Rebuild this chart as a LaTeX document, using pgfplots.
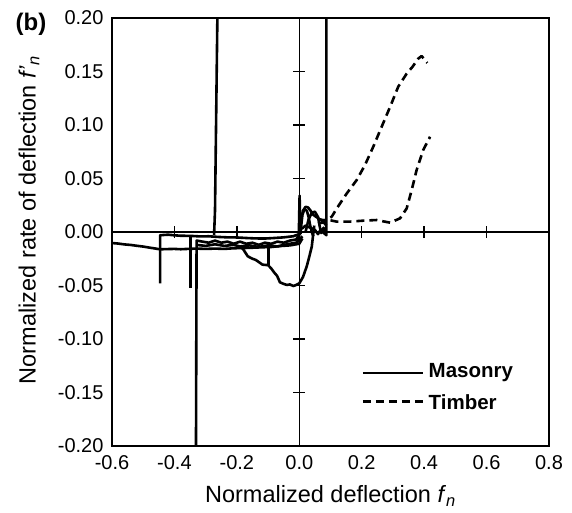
\documentclass[border=0pt]{standalone}
\usepackage{fontspec}
\setmainfont{Liberation Sans}
\usepackage{pgfplots}
\pgfplotsset{compat=1.18}

\begin{document}
\begin{tikzpicture}[
    masonry/.style={black, solid, line width=2.6pt, mark=none, line join=round},
    timber/.style={black, line width=2.6pt, mark=none, line join=round, dash pattern=on 8pt off 5pt},
]
% page = 572 x 512 (1pt per pixel of the reference)
\path[use as bounding box] (-112pt,-66pt) rectangle (460pt,446pt);

\begin{axis}[
    width=437pt, height=428pt, scale only axis,
    xmin=-0.6, xmax=0.8, ymin=-0.2, ymax=0.2,
    xtick={-0.6,-0.4,...,0.8},
    ytick={-0.2,-0.15,-0.1,-0.05,0,0.05,0.1,0.15,0.2},
    major tick length=0pt,
    tick style={draw=none},
    axis line style={line width=1.3pt},
    /pgf/number format/assume math mode=true,
    tick label style={font=\fontsize{20}{22}\selectfont},
    xticklabel style={/pgf/number format/fixed, /pgf/number format/fixed zerofill,
        /pgf/number format/precision=1, yshift=-6pt},
    yticklabel style={/pgf/number format/fixed, /pgf/number format/fixed zerofill,
        /pgf/number format/precision=2, xshift=-5pt},
    xlabel={Normalized deflection \textit{f}\textsubscript{\textit{n}}},
    ylabel={Normalized rate of deflection \textit{f'}\textsubscript{\textit{n}}},
    label style={font=\fontsize{23.5}{26}\selectfont},
    xlabel style={at={(axis description cs:0.5,-0.0845)}, anchor=north},
    ylabel style={at={(axis description cs:-0.19,0.528)}, anchor=center},
]
% ---- Masonry (solid)
\addplot[masonry] coordinates {(-0.600,-0.0103) (-0.58,-0.0108) (-0.56,-0.0116) (-0.54,-0.0121)
  (-0.52,-0.0129) (-0.50,-0.0136) (-0.48,-0.0146) (-0.46,-0.0155) (-0.446,-0.0162)
  (-0.43,-0.0160) (-0.40,-0.0158) (-0.38,-0.0161) (-0.35,-0.0157) (-0.33,-0.0155)
  (-0.30,-0.0158) (-0.27,-0.0155) (-0.24,-0.0158) (-0.21,-0.0152) (-0.18,-0.0150)
  (-0.15,-0.0147) (-0.12,-0.0143) (-0.09,-0.0140) (-0.06,-0.0131) (-0.03,-0.0125)
  (0,-0.0110) (0.01,-0.006)};
\addplot[masonry] coordinates {(-0.446,-0.048) (-0.446,-0.003) (-0.42,-0.0025) (-0.40,-0.0031)
  (-0.38,-0.0035) (-0.35,-0.0036) (-0.32,-0.0041) (-0.29,-0.0040) (-0.26,-0.0046)
  (-0.23,-0.0050) (-0.20,-0.0051) (-0.17,-0.0056) (-0.14,-0.0060) (-0.11,-0.0061)
  (-0.08,-0.0056) (-0.05,-0.0050) (-0.02,-0.0040) (0,-0.002)};
\addplot[masonry] coordinates {(-0.348,-0.052) (-0.348,-0.003)};
\addplot[masonry] coordinates {(-0.331,-0.21) (-0.329,-0.008) (-0.31,-0.009) (-0.29,-0.010)
  (-0.27,-0.008) (-0.25,-0.010) (-0.23,-0.009) (-0.21,-0.011) (-0.19,-0.009)
  (-0.17,-0.011) (-0.15,-0.010) (-0.13,-0.012) (-0.11,-0.010) (-0.09,-0.011)
  (-0.07,-0.009) (-0.05,-0.010) (-0.03,-0.008) (-0.01,-0.007) (0.005,0.0)};
\addplot[masonry] coordinates {(-0.33,-0.012) (-0.30,-0.013) (-0.27,-0.0115) (-0.24,-0.013)
  (-0.21,-0.012) (-0.19,-0.0135) (-0.16,-0.0125) (-0.13,-0.014) (-0.10,-0.0125)
  (-0.07,-0.0135) (-0.04,-0.0115) (-0.01,-0.010) (0.01,-0.004)};
\addplot[masonry] coordinates {(-0.273,-0.003) (-0.270,0.02) (-0.262,0.21)};
\addplot[masonry] coordinates {(0.075,0.0) (0.087,-0.003) (0.087,0.21)};
\addplot[masonry] coordinates {(-0.19,-0.0135) (-0.18,-0.016) (-0.165,-0.0227) (-0.15,-0.025)
  (-0.14,-0.026) (-0.13,-0.028) (-0.118,-0.0305) (-0.10,-0.031) (-0.09,-0.034)
  (-0.08,-0.038) (-0.071,-0.041) (-0.062,-0.047) (-0.05,-0.0485) (-0.04,-0.0495)
  (-0.03,-0.049) (-0.019,-0.0505) (-0.01,-0.0495) (0,-0.048) (0.012,-0.042)
  (0.024,-0.032) (0.033,-0.022) (0.04,-0.0137) (0.045,-0.001) (0.048,0.006)};
\addplot[masonry] coordinates {(-0.099,-0.031) (-0.099,-0.012)};
\addplot[masonry] coordinates {(-0.002,-0.01) (0.001,0.034) (0.004,-0.002)};
\addplot[masonry] coordinates {(0.0,-0.003) (0.006,0.012) (0.012,0.020) (0.020,0.0235)
  (0.028,0.023) (0.036,0.020) (0.045,0.016) (0.055,0.014) (0.065,0.012)
  (0.075,0.010) (0.087,0.006)};
\addplot[masonry] coordinates {(0.004,0.0) (0.010,0.016) (0.016,0.021) (0.024,0.020)
  (0.030,0.014) (0.035,0.006) (0.040,0.0) (0.045,-0.004)};
\addplot[masonry] coordinates {(0.020,0.0) (0.030,0.012) (0.040,0.018) (0.050,0.019)
  (0.060,0.014) (0.065,0.006) (0.070,-0.001) (0.078,0.004) (0.082,-0.002)};
\addplot[masonry] coordinates {(0.008,0.003) (0.020,0.006) (0.035,0.004) (0.050,0.002)
  (0.060,-0.002) (0.070,0.003)};
% ---- Timber (dashed)
\addplot[timber] coordinates {(0.06,0.012) (0.08,0.011)
  (0.094,0.0125) (0.104,0.0143) (0.12,0.022) (0.152,0.036) (0.184,0.0486)
  (0.2105,0.0626) (0.237,0.0797) (0.264,0.0984) (0.291,0.117) (0.317,0.1358)
  (0.344,0.148) (0.363,0.1545) (0.381,0.162) (0.392,0.1645) (0.41,0.158)};
\addplot[timber] coordinates {(0.06,0.008) (0.08,0.009)
  (0.098,0.011) (0.12,0.0097) (0.162,0.0097) (0.205,0.0106) (0.248,0.0112)
  (0.291,0.0087) (0.323,0.0128) (0.344,0.022) (0.36,0.039) (0.376,0.058)
  (0.397,0.0766) (0.419,0.089)};
% ---- legend
\draw[masonry] (axis cs:0.2035,-0.1318) -- (axis cs:0.3965,-0.1318);
\draw[timber] (axis cs:0.2035,-0.1586) -- (axis cs:0.3965,-0.1586);
\node[anchor=west, inner sep=0pt, font=\fontsize{20.5}{23}\selectfont\bfseries] at (axis cs:0.414,-0.1318) {Masonry};
\node[anchor=west, inner sep=0pt, font=\fontsize{20.5}{23}\selectfont\bfseries] at (axis cs:0.414,-0.1586) {Timber};
\end{axis}

% centre axes with crossing ticks
\begin{axis}[
    width=437pt, height=428pt, scale only axis,
    xmin=-0.6, xmax=0.8, ymin=-0.2, ymax=0.2,
    axis lines=middle,
    axis line style={-, line width=1.3pt},
    xtick={-0.6,-0.4,-0.2,0.2,0.4,0.6,0.8},
    ytick={-0.2,-0.15,-0.1,-0.05,0.05,0.1,0.15,0.2},
    xticklabels={}, yticklabels={},
    tick align=center, major tick length=12pt,
    tick style={black, line width=1.3pt},
]
\end{axis}

\node[font=\fontsize{24}{26}\selectfont\bfseries] at (-81pt,421.5pt) {(b)};
\end{tikzpicture}
\end{document}
